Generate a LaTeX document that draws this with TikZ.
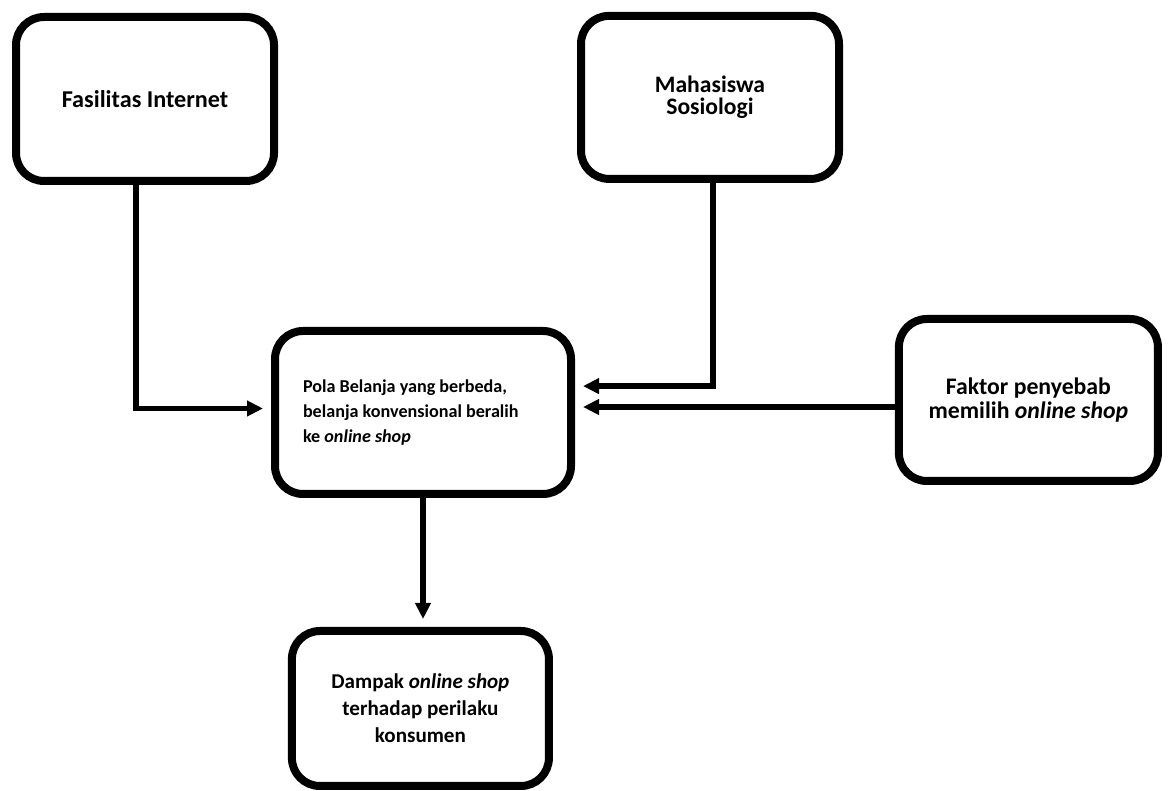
\documentclass[tikz,border=0pt]{standalone}
\usepackage{fontspec}
\setmainfont{Carlito}
\usetikzlibrary{arrows.meta}

\begin{document}
\begin{tikzpicture}[
	box/.style = {draw, line width = 0.2cm, rounded corners = 0.7cm, align = center},
	arr/.style = {line width = 0.14cm, -{Triangle[length = 0.4cm, width = 0.375cm]}, shorten > = 0.2cm}
	]
			\useasboundingbox (0,0) rectangle (29.2,19.775);
			\node (fas) at (3.625,17.3) [box, minimum width = 6.45cm, minimum height = 4.1cm, font = \bfseries\fontsize{17.2}{18}\selectfont] {Fasilitas Internet};
			\node (mhs) at (17.75,17.34) [box, minimum width = 6.45cm, minimum height = 4.075cm, font = \bfseries\fontsize{16.8}{15.7}\selectfont] {Mahasiswa\\Sosiologi};
			\node (pola) at (10.575,9.4625) [box, minimum width = 7.4cm, minimum height = 4.075cm, text width = 6cm, align = flush left, font = \bfseries\fontsize{12.9}{17.8}\selectfont] {Pola Belanja yang berbeda,\\belanja konvensional beralih\\ke \textit{online shop}};
			\node (fak) at (25.71,9.775) [box, minimum width = 6.475cm, minimum height = 4.05cm, font = \bfseries\fontsize{16.9}{17}\selectfont] {Faktor penyebab\\memilih \textit{online shop}};
			\node (dmp) at (10.51,2.0625) [box, minimum width = 6.425cm, minimum height = 3.875cm, font = \bfseries\fontsize{15}{19.2}\selectfont] {Dampak \textit{online shop}\\terhadap perilaku\\konsumen};
			\draw[arr] ([xshift = -0.225cm]fas.south) |- ([yshift = 0.1cm]pola.west);
			\draw[arr] ([xshift = 0.075cm]mhs.south) |- ([yshift = 0.66cm]pola.east);
			\draw[arr] ([yshift = -0.175cm]fak.west) -- ([yshift = 0.1375cm]pola.east);
			\draw[arr] (pola.south) -- (pola.south |- dmp.north);
\end{tikzpicture}
\end{document}
